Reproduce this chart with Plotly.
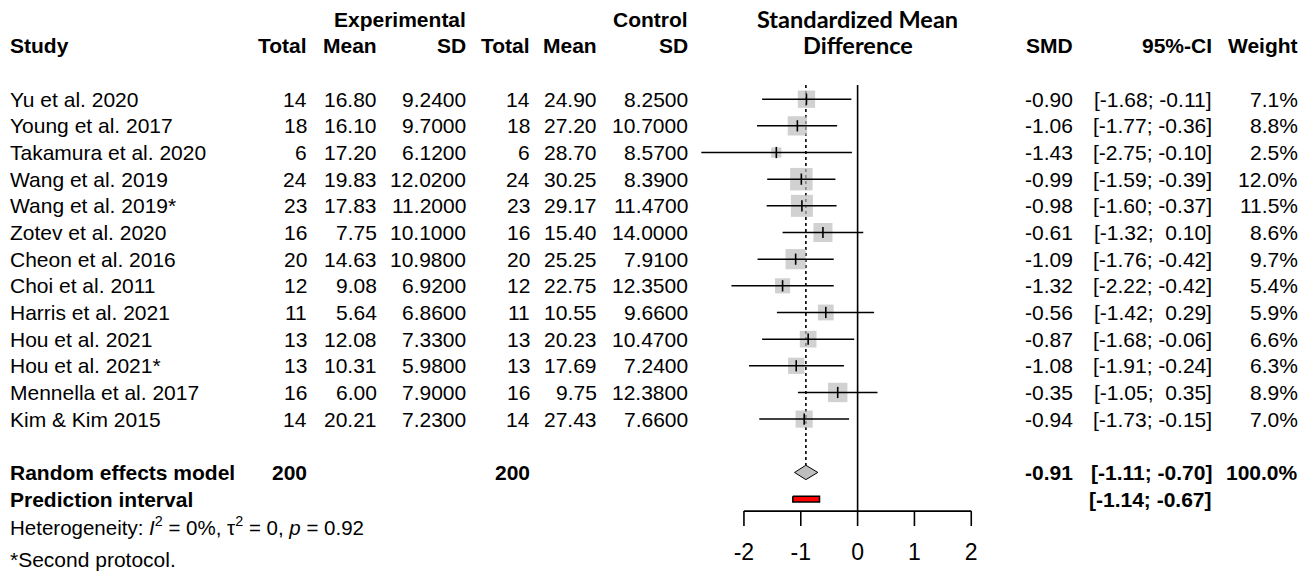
import plotly.graph_objects as go

# ---------------- data ----------------
studies = ["Yu et al. 2020", "Young et al. 2017", "Takamura et al. 2020", "Wang et al. 2019",
           "Wang et al. 2019*", "Zotev et al. 2020", "Cheon et al. 2016", "Choi et al. 2011",
           "Harris et al. 2021", "Hou et al. 2021", "Hou et al. 2021*", "Mennella et al. 2017",
           "Kim & Kim 2015"]
n_exp = [14, 18, 6, 24, 23, 16, 20, 12, 11, 13, 13, 16, 14]
mean_exp = [16.80, 16.10, 17.20, 19.83, 17.83, 7.75, 14.63, 9.08, 5.64, 12.08, 10.31, 6.00, 20.21]
sd_exp = [9.24, 9.70, 6.12, 12.02, 11.20, 10.10, 10.98, 6.92, 6.86, 7.33, 5.98, 7.90, 7.23]
n_ctl = [14, 18, 6, 24, 23, 16, 20, 12, 11, 13, 13, 16, 14]
mean_ctl = [24.90, 27.20, 28.70, 30.25, 29.17, 15.40, 25.25, 22.75, 10.55, 20.23, 17.69, 9.75, 27.43]
sd_ctl = [8.25, 10.70, 8.57, 8.39, 11.47, 14.00, 7.91, 12.35, 9.66, 10.47, 7.24, 12.38, 7.66]
smd = [-0.90, -1.06, -1.43, -0.99, -0.98, -0.61, -1.09, -1.32, -0.56, -0.87, -1.08, -0.35, -0.94]
ci_low = [-1.68, -1.77, -2.75, -1.59, -1.60, -1.32, -1.76, -2.22, -1.42, -1.68, -1.91, -1.05, -1.73]
ci_high = [-0.11, -0.36, -0.10, -0.39, -0.37, 0.10, -0.42, -0.42, 0.29, -0.06, -0.24, 0.35, -0.15]
weights = [7.1, 8.8, 2.5, 12.0, 11.5, 8.6, 9.7, 5.4, 5.9, 6.6, 6.3, 8.9, 7.0]

pooled_total_exp = 200
pooled_total_ctl = 200
pooled_smd = -0.91
pooled_low = -1.11
pooled_high = -0.70
pooled_weight = 100.0
pi_low = -1.14
pi_high = -0.67
het_text = "Heterogeneity: <i>I</i><sup>2</sup> = 0%, τ<sup>2</sup> = 0, <i>p</i> = 0.92"
footnote = "*Second protocol."
tick_vals = [-2, -1, 0, 1, 2]

# ---------------- layout geometry ----------------
W, H = 1313, 571
ROW0_PX, ROW_PX = 99.2, 26.66
ZERO_PX, UNIT_PX = 857.6, 56.83
y_range = [(H - ROW0_PX) / ROW_PX, -ROW0_PX / ROW_PX]
x_range = [-ZERO_PX / UNIT_PX, (W - ZERO_PX) / UNIT_PX]

FONT = "Liberation Sans, Arial, sans-serif"
FS = 21
GREY = "#BEBEBE"

n = len(studies)
rows = list(range(n))
ROW_RE = n + 1
ROW_PI = n + 2
ROW_HET = n + 3
ROW_FOOT = 17.28
AXIS_ROW = 15.45
TICK_END = 16.01
TICKLAB_ROW = 17.06
TOP_ROW = -0.53

fig = go.Figure()

# zero line & pooled (dotted) line
fig.add_trace(go.Scatter(x=[0, 0], y=[TOP_ROW, AXIS_ROW], mode="lines",
                         line=dict(color="black", width=1.6), hoverinfo="skip"))
diamond_half = 0.27
fig.add_trace(go.Scatter(x=[pooled_smd, pooled_smd], y=[TOP_ROW, ROW_RE - diamond_half], mode="lines",
                         line=dict(color="black", width=1.6, dash="dot"), hoverinfo="skip"))

# squares
maxw = max(weights)
sizes = [22.5 * (w / maxw) ** 0.5 for w in weights]
fig.add_trace(go.Scatter(x=smd, y=rows, mode="markers",
                         marker=dict(symbol="square", size=sizes, color=GREY, line=dict(width=0)),
                         hoverinfo="skip"))

# CI lines
cx, cy = [], []
for lo, hi, r in zip(ci_low, ci_high, rows):
    cx += [lo, hi, None]
    cy += [r, r, None]
fig.add_trace(go.Scatter(x=cx, y=cy, mode="lines", line=dict(color="black", width=1.5),
                         hoverinfo="skip"))
# point estimate ticks
fig.add_trace(go.Scatter(x=smd, y=rows, mode="markers",
                         marker=dict(symbol="line-ns-open", size=8, color="black",
                                     line=dict(color="black", width=1.6)),
                         hoverinfo="skip", cliponaxis=False))

# diamond
fig.add_trace(go.Scatter(x=[pooled_low, pooled_smd, pooled_high, pooled_smd, pooled_low],
                         y=[ROW_RE, ROW_RE - diamond_half, ROW_RE, ROW_RE + diamond_half, ROW_RE],
                         mode="lines", fill="toself", fillcolor=GREY,
                         line=dict(color="black", width=1), hoverinfo="skip"))
# prediction interval
ph = 0.11
fig.add_trace(go.Scatter(x=[pi_low, pi_high, pi_high, pi_low, pi_low],
                         y=[ROW_PI - ph, ROW_PI - ph, ROW_PI + ph, ROW_PI + ph, ROW_PI - ph],
                         mode="lines", fill="toself", fillcolor="red",
                         line=dict(color="black", width=1.5), hoverinfo="skip"))

# axis
fig.add_trace(go.Scatter(x=[tick_vals[0], tick_vals[-1]], y=[AXIS_ROW, AXIS_ROW], mode="lines",
                         line=dict(color="black", width=1.6), hoverinfo="skip"))
tx, ty = [], []
for t in tick_vals:
    tx += [t, t, None]
    ty += [AXIS_ROW, TICK_END, None]
fig.add_trace(go.Scatter(x=tx, y=ty, mode="lines", line=dict(color="black", width=1.6),
                         hoverinfo="skip"))
fig.add_trace(go.Scatter(x=tick_vals, y=[TICKLAB_ROW] * len(tick_vals), mode="text",
                         text=[str(t) for t in tick_vals], textposition="middle center",
                         textfont=dict(family=FONT, size=23, color="black"),
                         hoverinfo="skip", cliponaxis=False))

# ---------------- text columns ----------------
COL = dict(study=10, ne=307, me=377, sde=466, nc=530, mc=597, sdc=688, smd=1073, ci=1212, w=1298)
ann = []


def txt(px, row, s, anchor="right", bold=False, size=FS, family=FONT):
    if bold:
        s = "<b>" + s + "</b>"
    ann.append(dict(x=px / W, xref="paper", y=row, yref="y", text=s, showarrow=False,
                    xanchor=anchor, yanchor="middle", borderpad=0, borderwidth=0,
                    font=dict(family=family, size=size, color="black")))


def fmt_ci(lo, hi):
    return ("[%5.2f; %5.2f]" % (lo, hi)).replace(" ", "\u00a0")


# headers
txt(COL["sde"], -3, "Experimental", bold=True)
txt(COL["sdc"], -3, "Control", bold=True)
txt(COL["study"], -2, "Study", anchor="left", bold=True)
for key, lab in [("ne", "Total"), ("me", "Mean"), ("sde", "SD"), ("nc", "Total"), ("mc", "Mean"),
                 ("sdc", "SD"), ("smd", "SMD"), ("ci", "95%-CI"), ("w", "Weight")]:
    txt(COL[key], -2, lab, bold=True)
HF = dict(family="Lato, sans-serif", size=23.5, color="black")
ann.append(dict(x=0, xref="x", y=-3.02, yref="y", text="<b>Standardized Mean</b>", showarrow=False,
                xanchor="center", yanchor="middle", borderpad=0, font=HF))
ann.append(dict(x=0, xref="x", y=-2.05, yref="y", text="<b>Difference</b>", showarrow=False,
                xanchor="center", yanchor="middle", borderpad=0, font=HF))

for i in range(n):
    txt(COL["study"], i, studies[i], anchor="left")
    txt(COL["ne"], i, "%d" % n_exp[i])
    txt(COL["me"], i, "%.2f" % mean_exp[i])
    txt(COL["sde"], i, "%.4f" % sd_exp[i])
    txt(COL["nc"], i, "%d" % n_ctl[i])
    txt(COL["mc"], i, "%.2f" % mean_ctl[i])
    txt(COL["sdc"], i, "%.4f" % sd_ctl[i])
    txt(COL["smd"], i, "%.2f" % smd[i])
    txt(COL["ci"], i, fmt_ci(ci_low[i], ci_high[i]))
    txt(COL["w"], i, "%.1f%%" % weights[i])

txt(COL["study"], ROW_RE, "Random effects model", anchor="left", bold=True)
txt(COL["ne"], ROW_RE, "%d" % pooled_total_exp, bold=True)
txt(COL["nc"], ROW_RE, "%d" % pooled_total_ctl, bold=True)
txt(COL["smd"], ROW_RE, "%.2f" % pooled_smd, bold=True)
txt(COL["ci"], ROW_RE, fmt_ci(pooled_low, pooled_high), bold=True)
txt(COL["w"], ROW_RE, "%.1f%%" % pooled_weight, bold=True)
txt(COL["study"], ROW_PI, "Prediction interval", anchor="left", bold=True)
txt(COL["ci"], ROW_PI, fmt_ci(pi_low, pi_high), bold=True)
txt(COL["study"], ROW_HET, het_text, anchor="left", size=20.5)
txt(COL["study"], ROW_FOOT, footnote, anchor="left")

fig.update_layout(
    width=W, height=H, autosize=False,
    margin=dict(l=0, r=0, t=0, b=0),
    paper_bgcolor="white", plot_bgcolor="white",
    showlegend=False,
    xaxis=dict(range=x_range, domain=[0, 1], visible=False, fixedrange=True),
    yaxis=dict(range=y_range, domain=[0, 1], visible=False, fixedrange=True),
    annotations=ann,
)

fig.write_html("out.html", config={"displayModeBar": False},
               post_script="document.body.style.margin='0';document.body.style.overflow='hidden';")
